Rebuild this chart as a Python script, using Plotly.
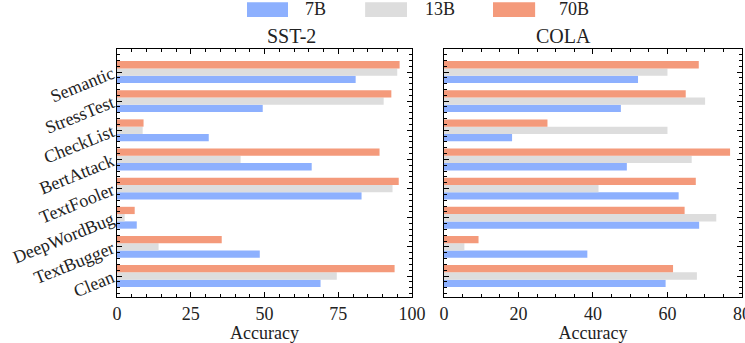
import plotly.graph_objects as go

categories = ["Clean", "TextBugger", "DeepWordBug", "TextFooler",
              "BertAttack", "CheckList", "StressTest", "Semantic"]
models = ["7B", "13B", "70B"]
colors = ["#8db0fe", "#dddddd", "#f49a7b"]

sst2_7b = [69.0, 48.4, 6.7, 82.9, 66.0, 31.1, 49.4, 80.9]
sst2_13b = [74.5, 14.1, 2.6, 93.4, 41.9, 8.7, 90.4, 95.0]
sst2_70b = [94.1, 35.5, 6.0, 95.5, 89.0, 9.0, 93.0, 95.8]

cola_7b = [59.5, 38.5, 68.5, 63.0, 49.1, 18.3, 47.5, 52.1]
cola_13b = [67.9, 5.5, 73.1, 41.5, 66.5, 60.0, 70.1, 60.0]
cola_70b = [61.5, 9.3, 64.6, 67.6, 76.8, 27.8, 64.9, 68.4]

panel_titles = ["SST-2", "COLA"]
x_ticks_sst2 = [0, 25, 50, 75, 100]
x_ticks_cola = [0, 20, 40, 60, 80]

FONT = "Liberation Serif"
ypos = list(range(len(categories)))

fig = go.Figure()
sst = [sst2_7b, sst2_13b, sst2_70b]
col = [cola_7b, cola_13b, cola_70b]
for i, m in enumerate(models):
    fig.add_trace(go.Bar(x=sst[i], y=ypos, orientation="h", name=m,
                         marker=dict(color=colors[i], line=dict(width=0)),
                         xaxis="x", yaxis="y", showlegend=False))
for i, m in enumerate(models):
    fig.add_trace(go.Bar(x=col[i], y=ypos, orientation="h", name=m,
                         marker=dict(color=colors[i], line=dict(width=0)),
                         xaxis="x2", yaxis="y2", showlegend=False))

axis_common = dict(showline=True, linecolor="black", linewidth=1.3, mirror="ticks",
                   ticks="inside", ticklen=5, tickwidth=1, tickcolor="black",
                   showgrid=False, zeroline=False, automargin=False,
                   tickfont=dict(family=FONT, size=18, color="#222"))

yrange = [-0.72, 7.79]
fig.update_layout(
    width=745, height=343,
    margin=dict(l=117, r=3, t=49, b=46),
    plot_bgcolor="white", paper_bgcolor="white",
    barmode="group", bargap=0.25, bargroupgap=0,
    font=dict(family=FONT, color="#222"),
    xaxis=dict(domain=[0, 0.472], range=[0, 100], tickvals=x_ticks_sst2,
               minor=dict(dtick=5, ticks="inside", ticklen=3, tickcolor="black"),
               title=dict(text="Accuracy", font=dict(family=FONT, size=18), standoff=0),
               anchor="y", **axis_common),
    xaxis2=dict(domain=[0.523, 1.0], range=[0, 80], tickvals=x_ticks_cola,
                ticklabeloverflow="allow",
                minor=dict(dtick=5, ticks="inside", ticklen=3, tickcolor="black"),
                title=dict(text="Accuracy", font=dict(family=FONT, size=18), standoff=0),
                anchor="y2", **axis_common),
    yaxis=dict(range=yrange, tickvals=ypos, ticktext=categories, tickangle=-22,
               minor=dict(dtick=0.2, tick0=0, ticks="inside", ticklen=3, tickcolor="black"),
               anchor="x", **axis_common),
    yaxis2=dict(range=yrange, tickvals=ypos, showticklabels=False,
                minor=dict(dtick=0.2, tick0=0, ticks="inside", ticklen=3, tickcolor="black"),
                anchor="x2", **axis_common),
)

# panel titles
fig.add_annotation(text=panel_titles[0], x=0.236, y=1.0, xref="paper", yref="paper",
                   yanchor="bottom", showarrow=False, yshift=0,
                   font=dict(family=FONT, size=20, color="#222"))
fig.add_annotation(text=panel_titles[1], x=0.7615, y=1.0, xref="paper", yref="paper",
                   yanchor="bottom", showarrow=False, yshift=0,
                   font=dict(family=FONT, size=20, color="#222"))

# legend (patches + labels)
leg_x0 = [0.208, 0.397, 0.6016]
leg_x1 = [0.2736, 0.464, 0.669]
leg_tx = [0.2976, 0.4896, 0.704]
for i, m in enumerate(models):
    fig.add_shape(type="rect", xref="paper", yref="paper",
                  x0=leg_x0[i], x1=leg_x1[i], y0=1.129, y1=1.189,
                  fillcolor=colors[i], line=dict(width=0))
    fig.add_annotation(text=m, x=leg_tx[i], y=1.16, xref="paper", yref="paper",
                       xanchor="left", yanchor="middle", showarrow=False,
                       font=dict(family=FONT, size=18, color="#222"))

fig.write_html("out.html", config={"displayModeBar": False},
               post_script="document.body.style.margin='0px';document.body.style.overflow='hidden';")
